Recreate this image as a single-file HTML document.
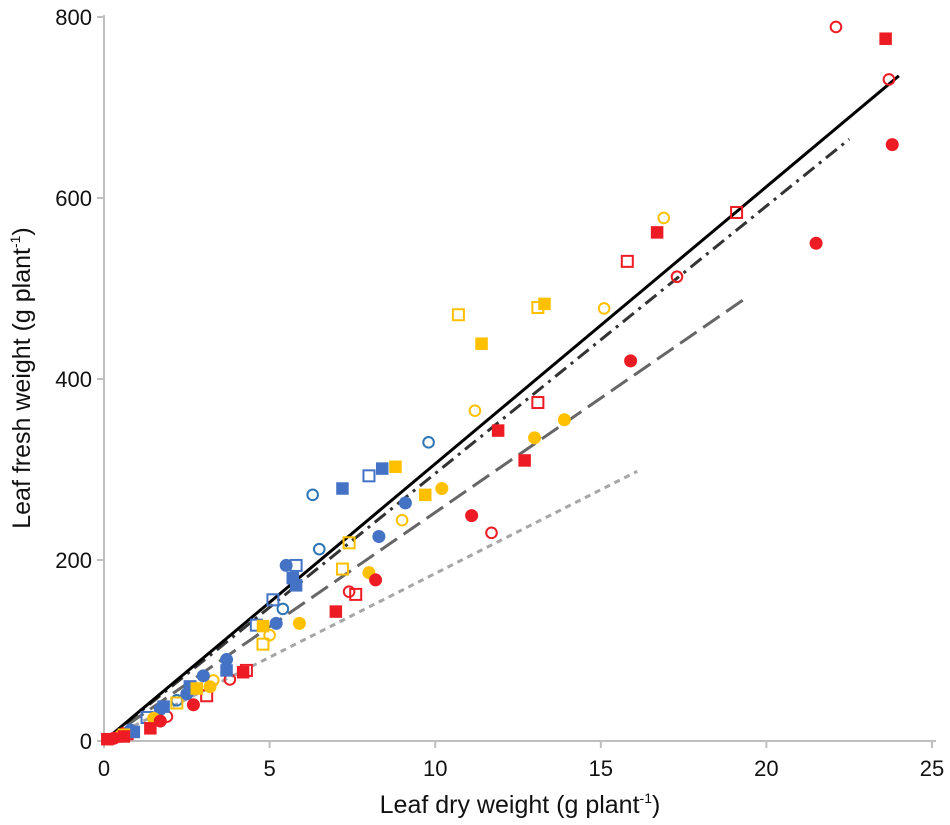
<!DOCTYPE html>
<html><head><meta charset="utf-8"><style>
html,body{margin:0;padding:0;background:#fff;}
svg{display:block;font-family:"Liberation Sans",sans-serif;}
</style></head><body>
<svg id="chart" width="950" height="825"></svg>
<script>
const xTicks=[0,5,10,15,20,25];
const yTicks=[0,200,400,600,800];
const blueFilledCircle=[[0.8,12],[1.7,35],[2.5,52],[3.0,72],[3.7,90],[5.2,130],[5.5,194],[8.3,226],[9.1,263]];
const blueFilledSquare=[[0.9,10],[1.8,38],[2.6,60],[3.7,78],[5.7,180],[5.8,172],[7.2,279],[8.4,301]];
const blueOpenCircle=[[0.7,8],[2.2,45],[3.0,72],[5.4,146],[6.3,272],[6.5,212],[9.8,330]];
const blueOpenSquare=[[1.3,26],[2.6,60],[4.6,128],[5.1,156],[5.8,194],[8.0,293]];
const yellowFilledCircle=[[0.5,6],[1.5,25],[3.2,60],[5.9,130],[8.0,186],[10.2,279],[13.0,335],[13.9,355]];
const yellowFilledSquare=[[0.6,7],[2.8,58],[4.8,127],[8.8,303],[9.7,272],[11.4,439],[13.3,483]];
const yellowOpenCircle=[[0.8,10],[3.3,67],[5.0,117],[9.0,244],[11.2,365],[15.1,478],[16.9,578]];
const yellowOpenSquare=[[2.2,42],[4.8,107],[7.2,190],[7.4,219],[10.7,471],[13.1,479]];
const redFilledCircle=[[0.3,3],[1.7,22],[2.7,40],[8.2,178],[11.1,249],[15.9,420],[21.5,550],[23.8,659]];
const redFilledSquare=[[0.1,2],[0.6,5],[1.4,14],[4.2,76],[7.0,143],[11.9,343],[12.7,310],[16.7,562],[23.6,776]];
const redOpenCircle=[[0.5,5],[1.9,27],[3.8,68],[7.4,165],[11.7,230],[17.3,513],[22.1,789],[23.7,731]];
const redOpenSquare=[[0.7,8],[3.1,50],[4.3,78],[7.6,162],[13.1,374],[15.8,530],[19.1,584]];
const fitSolid=[[0,0],[24,735]];
const fitDashDot=[[0,0],[22.5,665]];
const fitLongDash=[[0,0],[19.4,490]];
const fitDotted=[[0,0],[16.1,298]];

const NS="http://www.w3.org/2000/svg";
const svg=document.getElementById('chart');
const X=v=>104+v*(828/25);
const Y=v=>741-v*(724/800);
function mk(t,a,p){const e=document.createElementNS(NS,t);for(const k in a)e.setAttribute(k,a[k]);(p||svg).appendChild(e);return e;}

let ax=mk('line',{x1:104,y1:741,x2:936,y2:741,stroke:'#bfbfbf','stroke-width':2});


let ay=mk('line',{x1:104,y1:741,x2:104,y2:15,stroke:'#bfbfbf','stroke-width':2});


xTicks.forEach(v=>{
 const l=mk('line',{x1:X(v),y1:741,x2:X(v),y2:748,stroke:'#bfbfbf','stroke-width':2});
 
 
 const t=mk('text',{x:X(v),y:776,'text-anchor':'middle','font-size':22,fill:'#111'});
 t.textContent=v;
 
 
});
yTicks.forEach(v=>{
 const l=mk('line',{x1:97,y1:Y(v),x2:104,y2:Y(v),stroke:'#bfbfbf','stroke-width':2});
 
 
 const t=mk('text',{x:92,y:Y(v)+8,'text-anchor':'end','font-size':22,fill:'#111'});
 t.textContent=v;
 
 
});
let xt=mk('text',{x:520,y:813,'text-anchor':'middle','font-size':25,fill:'#111'});
xt.innerHTML='Leaf dry weight (g plant<tspan font-size="14" dy="-10">-1</tspan><tspan dy="10">)</tspan>';


let yt=mk('text',{x:0,y:0,'text-anchor':'middle','font-size':25,fill:'#111',transform:'translate(30,378) rotate(-90)'});
yt.innerHTML='Leaf fresh weight (g plant<tspan font-size="14" dy="-10">-1</tspan><tspan dy="10">)</tspan>';



function line(d,stroke,w,dash,name){
 const l=mk('line',{x1:X(d[0][0]),y1:Y(d[0][1]),x2:X(d[1][0]),y2:Y(d[1][1]),stroke:stroke,'stroke-width':w,'stroke-dasharray':dash});
 
 
}
line(fitDotted,'#a6a6a6',3,'6,5','fit-line-dotted');
line(fitLongDash,'#666',3,'20,8','fit-line-long-dash');
line(fitDashDot,'#333',3,'14,6,3,6','fit-line-dash-dot');
line(fitSolid,'#000',3,'none','fit-line-solid');

function pts(d,color,shape,filled,name){
 d.forEach(p=>{
  const cx=X(p[0]),cy=Y(p[1]);let e;
  if(shape==='c'){e=mk('circle',{cx:cx,cy:cy,r:filled?6.5:5.3,fill:filled?color:'none',stroke:color,'stroke-width':filled?0:2});}
  else{const s=filled?12.5:11;e=mk('rect',{x:cx-s/2,y:cy-s/2,width:s,height:s,fill:filled?color:'none',stroke:color,'stroke-width':filled?0:2});}
  
  
 });
}
const B='#4472c4',BO='#2e75b6',Yl='#ffc000',R='#ed1c24';
pts(blueOpenCircle,BO,'c',false,'point-blue-open-circle');
pts(blueOpenSquare,B,'s',false,'point-blue-open-square');
pts(yellowOpenCircle,Yl,'c',false,'point-yellow-open-circle');
pts(yellowOpenSquare,Yl,'s',false,'point-yellow-open-square');
pts(redOpenCircle,R,'c',false,'point-red-open-circle');
pts(redOpenSquare,R,'s',false,'point-red-open-square');
pts(blueFilledCircle,B,'c',true,'point-blue-filled-circle');
pts(blueFilledSquare,B,'s',true,'point-blue-filled-square');
pts(yellowFilledCircle,Yl,'c',true,'point-yellow-filled-circle');
pts(yellowFilledSquare,Yl,'s',true,'point-yellow-filled-square');
pts(redFilledCircle,R,'c',true,'point-red-filled-circle');
pts(redFilledSquare,R,'s',true,'point-red-filled-square');
</script>
</body></html>
